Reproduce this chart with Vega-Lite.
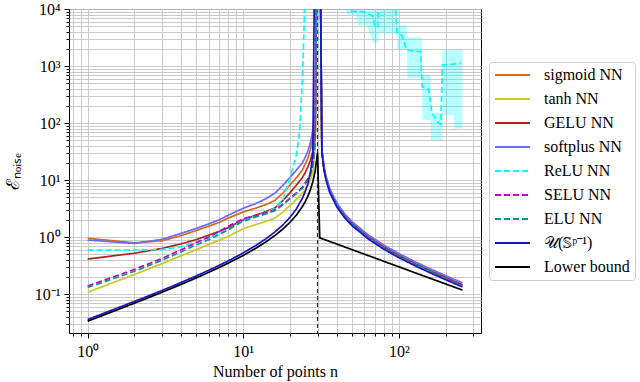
{
  "$schema": "https://vega.github.io/schema/vega-lite/v6.json",
  "width": 412,
  "height": 324,
  "autosize": {"type": "none"},
  "padding": {"left": 69, "top": 9, "right": 159, "bottom": 49},
  "background": "white",
  "config": {
    "font": "Liberation Serif",
    "view": {"stroke": "black", "strokeWidth": 1},
    "axis": {
      "labelFont": "Liberation Serif", "titleFont": "Liberation Serif",
      "labelFontSize": 16, "titleFontSize": 16, "titleFontWeight": "normal",
      "labelColor": "black", "titleColor": "black", "tickColor": "black",
      "domain": false, "grid": true, "gridColor": "#c4c4c4", "gridWidth": 0.9,
      "labelOverlap": false, "labelFlush": false, "tickWidth": 1
    },
    "legend": {
      "orient": "none", "legendX": 420, "legendY": 53,
      "labelFont": "Liberation Serif", "labelFontSize": 16, "labelColor": "black",
      "symbolType": "stroke", "symbolSize": 1225, "symbolStrokeWidth": 1.8,
      "clipHeight": 16,
      "rowPadding": 8, "padding": 5, "fillColor": "white", "strokeColor": "#cccccc",
      "cornerRadius": 3, "labelOffset": 13, "labelLimit": 200
    }
  },
  "datasets": {
    "curves": [
      {"n":1,"sigmoid":0.95,"tanh":0.107,"GELU":0.41,"softplus":0.885,"ReLU":0.59,"SELU":0.138,"ELU":0.13,"U":0.0357,"LB":0.0333},
      {"n":2,"sigmoid":0.79,"tanh":0.22,"GELU":0.52,"softplus":0.77,"ReLU":0.59,"SELU":0.27,"ELU":0.25,"U":0.0741,"LB":0.069},
      {"n":3,"sigmoid":0.86,"tanh":0.34,"GELU":0.63,"softplus":0.91,"ReLU":0.6,"SELU":0.42,"ELU":0.39,"U":0.115,"LB":0.107},
      {"n":4,"sigmoid":1.06,"tanh":0.47,"GELU":0.76,"softplus":1.16,"ReLU":0.68,"SELU":0.6,"ELU":0.55,"U":0.16,"LB":0.148},
      {"n":5,"sigmoid":1.3,"tanh":0.6,"GELU":0.9,"softplus":1.42,"ReLU":0.82,"SELU":0.8,"ELU":0.73,"U":0.208,"LB":0.192},
      {"n":6,"sigmoid":1.55,"tanh":0.74,"GELU":1.08,"softplus":1.7,"ReLU":0.98,"SELU":1.0,"ELU":0.9,"U":0.261,"LB":0.24},
      {"n":7,"sigmoid":1.8,"tanh":0.88,"GELU":1.25,"softplus":2.0,"ReLU":1.15,"SELU":1.25,"ELU":1.1,"U":0.318,"LB":0.292},
      {"n":8,"sigmoid":2.15,"tanh":1.02,"GELU":1.45,"softplus":2.4,"ReLU":1.35,"SELU":1.55,"ELU":1.35,"U":0.381,"LB":0.348},
      {"n":10,"sigmoid":2.75,"tanh":1.4,"GELU":2.0,"softplus":3.2,"ReLU":1.95,"SELU":2.1,"ELU":1.9,"U":0.526,"LB":0.476},
      {"n":12,"sigmoid":3.2,"tanh":1.65,"GELU":2.4,"softplus":3.85,"ReLU":2.35,"SELU":2.4,"ELU":2.25,"U":0.706,"LB":0.632},
      {"n":14,"sigmoid":3.7,"tanh":1.88,"GELU":2.8,"softplus":4.7,"ReLU":2.7,"SELU":2.65,"ELU":2.55,"U":0.933,"LB":0.824},
      {"n":16,"sigmoid":4.4,"tanh":2.15,"GELU":3.25,"softplus":5.9,"ReLU":3.2,"SELU":3.0,"ELU":2.9,"U":1.231,"LB":1.067},
      {"n":18,"sigmoid":5.9,"tanh":2.75,"GELU":4.4,"softplus":8.1,"ReLU":4.5,"SELU":3.8,"ELU":3.7,"U":1.636,"LB":1.385},
      {"n":19,"ReLU":7},
      {"n":20,"sigmoid":8.3,"tanh":3.6,"GELU":6.0,"softplus":11.2,"ReLU":11,"SELU":4.8,"ELU":4.7,"U":2.222,"LB":1.818},
      {"n":21,"ReLU":18},
      {"n":22,"sigmoid":11,"tanh":4.6,"GELU":8.2,"softplus":15,"ReLU":28,"SELU":6.0,"ELU":5.8,"U":3.143,"LB":2.444},
      {"n":23,"ReLU":70},
      {"n":24,"sigmoid":15,"tanh":5.8,"GELU":11,"softplus":20,"ReLU":600,"SELU":7.5,"ELU":7.2,"U":4.8,"LB":3.429},
      {"n":25,"sigmoid":19,"tanh":6.8,"GELU":13.5,"softplus":25,"ReLU":20000,"SELU":9,"ELU":8.5,"U":6.25,"LB":4.167},
      {"n":26,"sigmoid":24,"tanh":8,"GELU":17,"softplus":32,"SELU":10.5,"ELU":10,"U":8.667,"LB":5.2},
      {"n":27,"sigmoid":34,"tanh":10,"GELU":22,"softplus":45,"SELU":13,"ELU":12.5,"U":13.5,"LB":6.75},
      {"n":28,"sigmoid":55,"tanh":13.5,"GELU":32,"softplus":75,"SELU":18,"ELU":17,"U":28,"LB":9.333},
      {"n":29,"sigmoid":150,"tanh":40,"GELU":80,"softplus":200,"SELU":55,"ELU":50,"U":1000000,"LB":14.5},
      {"n":30,"sigmoid":1000000,"tanh":1000000,"GELU":1000000,"softplus":1000000,"SELU":1000000,"ELU":1000000,"U":1000000,"LB":30},
      {"n":31,"sigmoid":1000000,"tanh":1000000,"GELU":1000000,"softplus":1000000,"SELU":1000000,"ELU":1000000,"U":1000000,"LB":0.968},
      {"n":32,"sigmoid":32.4,"tanh":31.2,"GELU":33,"softplus":35.4,"SELU":31.8,"ELU":31.8,"U":30,"LB":0.9375},
      {"n":33,"sigmoid":16.2,"tanh":15.6,"GELU":16.5,"softplus":17.7,"SELU":15.9,"ELU":15.9,"U":15},
      {"n":34,"sigmoid":10.8,"tanh":10.4,"GELU":11,"softplus":11.8,"SELU":10.6,"ELU":10.6,"U":10},
      {"n":36,"sigmoid":6.48,"tanh":6.24,"GELU":6.6,"softplus":7.08,"SELU":6.36,"ELU":6.36,"U":6},
      {"n":40,"sigmoid":3.6,"tanh":3.47,"GELU":3.67,"softplus":3.93,"SELU":3.53,"ELU":3.53,"U":3.333},
      {"n":45,"sigmoid":2.31,"tanh":2.23,"GELU":2.36,"softplus":2.53,"SELU":2.27,"ELU":2.27,"U":2.143},
      {"n":46,"ReLU":11000},
      {"n":47,"ReLU":9500},
      {"n":50,"sigmoid":1.71,"tanh":1.64,"GELU":1.74,"softplus":1.86,"ReLU":9200,"SELU":1.67,"ELU":1.67,"U":1.579},
      {"n":59,"ReLU":8900},
      {"n":64,"sigmoid":0.982,"tanh":0.945,"GELU":1.0,"softplus":1.073,"SELU":0.964,"ELU":0.964,"U":0.909,"LB":0.469},
      {"n":68,"ReLU":7500},
      {"n":70,"ReLU":4900},
      {"n":73,"ReLU":4900},
      {"n":74,"ReLU":12000},
      {"n":80,"sigmoid":0.661,"tanh":0.636,"GELU":0.673,"softplus":0.722,"SELU":0.649,"ELU":0.649,"U":0.612},
      {"n":95,"ReLU":12000},
      {"n":97,"ReLU":3800},
      {"n":100,"sigmoid":0.47,"tanh":0.452,"GELU":0.479,"softplus":0.513,"SELU":0.461,"ELU":0.461,"U":0.435},
      {"n":104,"ReLU":3500},
      {"n":112,"ReLU":1900},
      {"n":128,"sigmoid":0.334,"tanh":0.321,"GELU":0.34,"softplus":0.365,"SELU":0.328,"ELU":0.328,"U":0.309,"LB":0.234},
      {"n":138,"ReLU":1780},
      {"n":141,"ReLU":430},
      {"n":155,"ReLU":405},
      {"n":160,"sigmoid":0.252,"tanh":0.242,"GELU":0.256,"softplus":0.275,"SELU":0.247,"ELU":0.247,"U":0.233},
      {"n":163,"ReLU":150},
      {"n":180,"ReLU":100},
      {"n":186,"ReLU":95},
      {"n":190,"ReLU":1040},
      {"n":200,"sigmoid":0.192,"tanh":0.185,"GELU":0.196,"softplus":0.21,"SELU":0.189,"ELU":0.189,"U":0.178},
      {"n":250,"ReLU":1115},
      {"n":256,"sigmoid":0.144,"tanh":0.138,"GELU":0.146,"softplus":0.157,"SELU":0.141,"ELU":0.141,"U":0.133,"LB":0.1172}
    ],
    "band": [
      {"n":46,"lo":8000,"hi":20000},
      {"n":53.5,"lo":8000,"hi":20000},
      {"n":54.5,"lo":5200,"hi":20000},
      {"n":62,"lo":5200,"hi":20000},
      {"n":68.5,"lo":2500,"hi":20000},
      {"n":73.5,"lo":2500,"hi":20000},
      {"n":74.5,"lo":3800,"hi":20000},
      {"n":96.5,"lo":3800,"hi":20000},
      {"n":97.5,"lo":1900,"hi":5200},
      {"n":112.5,"lo":1900,"hi":5200},
      {"n":113.5,"lo":615,"hi":3200},
      {"n":140.5,"lo":615,"hi":3200},
      {"n":141.5,"lo":113,"hi":700},
      {"n":159.5,"lo":113,"hi":700},
      {"n":160.5,"lo":50,"hi":150},
      {"n":189.5,"lo":50,"hi":150},
      {"n":190.5,"lo":138,"hi":1900},
      {"n":225.5,"lo":138,"hi":1900},
      {"n":226.5,"lo":80,"hi":1900},
      {"n":256,"lo":80,"hi":1900}
    ],
    "vline": [{"n": 30}]
  },
  "layer": [
    {
      "data": {"name": "band"},
      "mark": {"type": "area", "color": "#00ffff", "opacity": 0.28, "clip": true},
      "encoding": {
        "x": {
          "field": "n", "type": "quantitative", "title": "Number of points n",
          "scale": {"type": "log", "domain": [0.759, 337], "nice": false},
          "axis": {
            "values": [0.8,0.9,1,2,3,4,5,6,7,8,9,10,20,30,40,50,60,70,80,90,100,200,300],
            "labelExpr": "datum.value==1?'10⁰':datum.value==10?'10¹':datum.value==100?'10²':''",
            "tickSize": {"condition": {"test": "datum.value==1||datum.value==10||datum.value==100", "value": 5}, "value": 3},
            "labelPadding": 5, "titlePadding": 4
          }
        },
        "y": {
          "field": "lo", "type": "quantitative", "title": "ℰₙₒᵢₛₑ",
          "scale": {"type": "log", "domain": [0.0207, 10000], "nice": false},
          "axis": {
            "values": [0.03,0.04,0.05,0.06,0.07,0.08,0.09,0.1,0.2,0.3,0.4,0.5,0.6,0.7,0.8,0.9,1,2,3,4,5,6,7,8,9,10,20,30,40,50,60,70,80,90,100,200,300,400,500,600,700,800,900,1000,2000,3000,4000,5000,6000,7000,8000,9000,10000],
            "labelExpr": "datum.value==10000?'10⁴':datum.value==1000?'10³':datum.value==100?'10²':datum.value==10?'10¹':datum.value==1?'10⁰':datum.value==0.1?'10⁻¹':''",
            "tickSize": {"condition": {"test": "datum.value==0.1||datum.value==1||datum.value==10||datum.value==100||datum.value==1000||datum.value==10000", "value": 5}, "value": 3},
            "labelPadding": 4, "titlePadding": 12, "titleFontSize": 18
          }
        },
        "y2": {"field": "hi"}
      }
    },
    {
      "data": {"name": "vline"},
      "mark": {"type": "rule", "color": "#333333", "strokeDash": [4, 3], "strokeWidth": 1.2},
      "encoding": {
        "x": {"field": "n", "type": "quantitative", "title": "Number of points n"}
      }
    },
    {
      "data": {"name": "curves"},
      "transform": [
        {"fold": ["sigmoid","tanh","GELU","softplus","ReLU","SELU","ELU","U","LB"], "as": ["s", "v"]},
        {"filter": "isValid(datum.v)"}
      ],
      "mark": {"type": "line", "clip": true, "strokeWidth": 1.7},
      "encoding": {
        "x": {"field": "n", "type": "quantitative", "title": "Number of points n"},
        "y": {"field": "v", "type": "quantitative", "title": "ℰₙₒᵢₛₑ"},
        "color": {
          "field": "s", "type": "nominal",
          "scale": {
            "domain": ["sigmoid","tanh","GELU","softplus","ReLU","SELU","ELU","U","LB"],
            "range": ["#d2691e","#cdc723","#b22222","#6b6bff","#00ffff","#c000c0","#108f8f","#1515c8","#000000"]
          },
          "legend": {
            "title": null,
            "labelExpr": "datum.label=='sigmoid'?'sigmoid NN':datum.label=='tanh'?'tanh NN':datum.label=='GELU'?'GELU NN':datum.label=='softplus'?'softplus NN':datum.label=='ReLU'?'ReLU NN':datum.label=='SELU'?'SELU NN':datum.label=='ELU'?'ELU NN':datum.label=='U'?'𝒰(𝕊ᵖ⁻¹)':'Lower bound'"
          }
        },
        "strokeDash": {
          "field": "s", "type": "nominal",
          "scale": {
            "domain": ["sigmoid","tanh","GELU","softplus","ReLU","SELU","ELU","U","LB"],
            "range": [[1,0],[1,0],[1,0],[1,0],[6,3],[6,3],[6,3],[1,0],[1,0]]
          },
          "legend": {
            "title": null,
            "labelExpr": "datum.label=='sigmoid'?'sigmoid NN':datum.label=='tanh'?'tanh NN':datum.label=='GELU'?'GELU NN':datum.label=='softplus'?'softplus NN':datum.label=='ReLU'?'ReLU NN':datum.label=='SELU'?'SELU NN':datum.label=='ELU'?'ELU NN':datum.label=='U'?'𝒰(𝕊ᵖ⁻¹)':'Lower bound'"
          }
        }
      }
    }
  ]
}
